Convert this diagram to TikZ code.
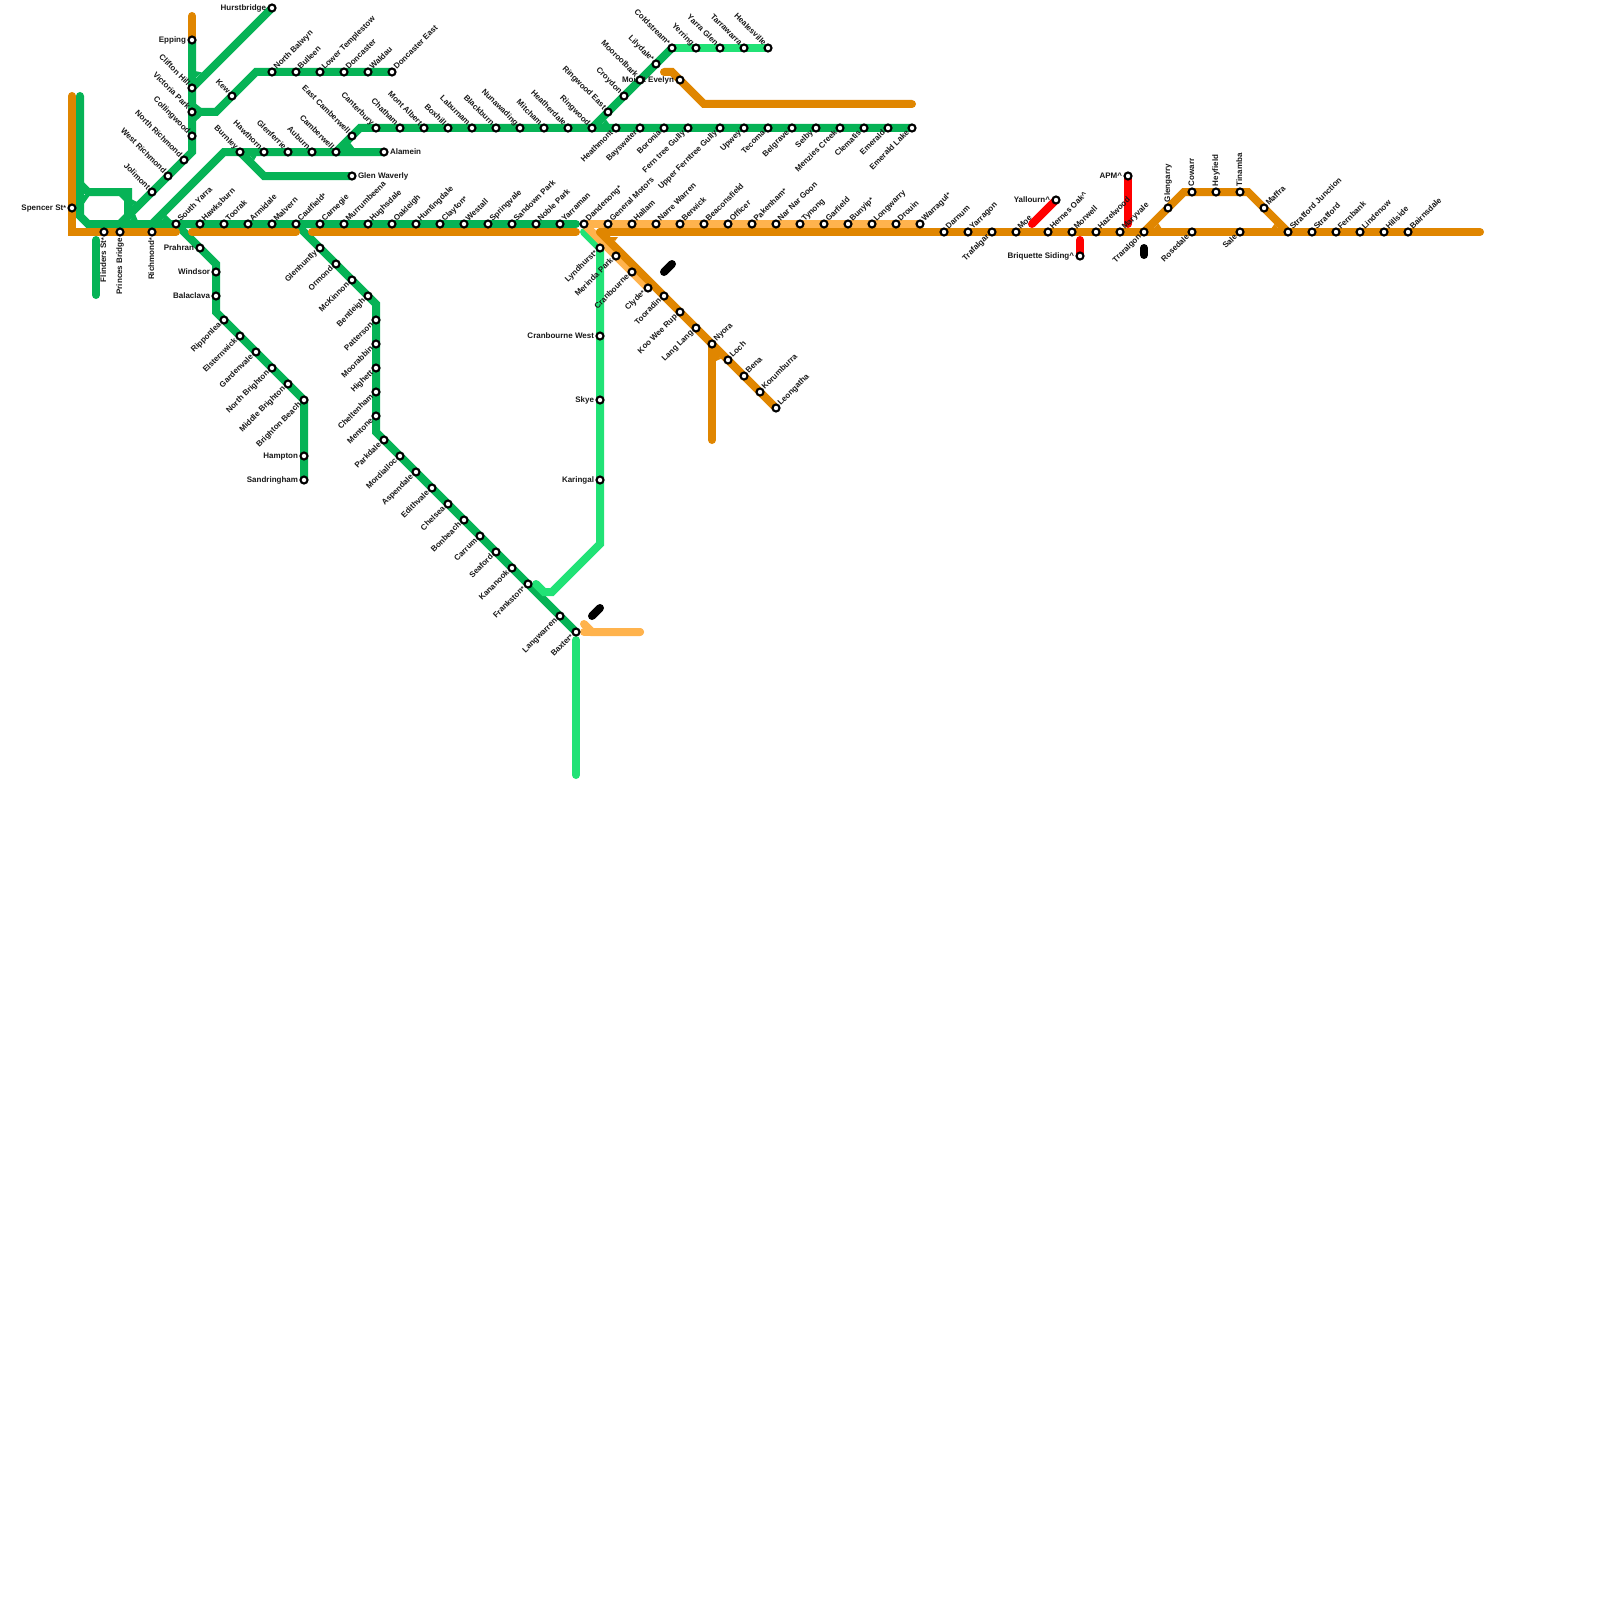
\documentclass[tikz,border=0pt]{standalone}
\usepackage{fontspec}
\setmainfont{Liberation Sans}
\pgfdeclarelayer{lines}
\pgfdeclarelayer{labels}
\pgfsetlayers{lines,labels,main}
\definecolor{gn}{HTML}{06B356}
\definecolor{lgn}{HTML}{21E276}
\definecolor{org}{HTML}{E08600}
\definecolor{lor}{HTML}{FFB34D}
\definecolor{rd}{HTML}{FF0000}
\tikzset{
 stn/.style={circle,draw=black,fill=white,line width=2.1pt,minimum size=7pt,inner sep=0pt,outer sep=0pt},
 lbl/.style={font=\fontsize{8}{9}\selectfont\bfseries,text=black!90,inner ysep=0pt,outer sep=0pt,text height=5.8pt,text depth=1.7pt},
 la/.style={lbl,rotate=45,anchor=west,inner xsep=5pt},
 lb/.style={lbl,rotate=45,anchor=east,inner xsep=5.5pt},
 lc/.style={lbl,rotate=-45,anchor=east,inner xsep=5pt},
 ll/.style={lbl,anchor=east,inner xsep=6pt},
 lr/.style={lbl,anchor=west,inner xsep=6pt},
 lu/.style={lbl,rotate=90,anchor=west,inner xsep=6pt},
 ld/.style={lbl,rotate=90,anchor=east,inner xsep=6pt},
 metro/.style={line width=8pt,line cap=round,line join=miter,miter limit=10},
 gline/.style={metro,draw=gn},
 lgline/.style={metro,draw=lgn},
 oline/.style={metro,draw=org},
 loline/.style={metro,draw=lor},
 rline/.style={metro,draw=rd},
 kline/.style={metro,draw=black},
}
\newcommand\st[5]{\node[stn] (#1) at (#2,#3) {};\begin{pgfonlayer}{labels}\node[#4] (#1-l) at (#1.center) {#5};\end{pgfonlayer}}
\newcommand\route[3]{\draw[#1] (#2.center) foreach \n in {#3} {-- (\n.center)};}
\newcommand\cp[3]{\coordinate (#1) at (#2,#3);}
\newcommand\crt{\textasciicircum}
\newcommand\strr{{\fontsize{7}{7}\selectfont*}}
\newcommand\fillet[2]{\fill[#1] #2 -- cycle;}
\begin{document}
\begin{tikzpicture}[x=1pt,y=-1pt]
\useasboundingbox (0,0) rectangle (1600,1600);
% city + cross-city
\st{spencer}{72}{208}{ll}{Spencer St\strr}
\st{flinders}{104}{232}{ld}{Flinders St\strr}
\st{princes}{120}{232}{ld}{Princes Bridge}
\st{richmond}{152}{232}{ld}{Richmond\strr}
\st{southyarra}{176}{224}{la}{South Yarra}
\st{hawksburn}{200}{224}{la}{Hawksburn}
\st{toorak}{224}{224}{la}{Toorak}
\st{armidale}{248}{224}{la}{Armidale}
\st{malvern}{272}{224}{la}{Malvern}
\st{caulfield}{296}{224}{la}{Caulfield\strr}
\st{carnegie}{320}{224}{la}{Carnegie}
\st{murrumbeena}{344}{224}{la}{Murrumbeena}
\st{hughsdale}{368}{224}{la}{Hughsdale}
\st{oakleigh}{392}{224}{la}{Oakleigh}
\st{huntingdale}{416}{224}{la}{Huntingdale}
\st{clayton}{440}{224}{la}{Clayton\strr}
\st{westall}{464}{224}{la}{Westall}
\st{springvale}{488}{224}{la}{Springvale}
\st{sandown}{512}{224}{la}{Sandown Park}
\st{noblepark}{536}{224}{la}{Noble Park}
\st{yarraman}{560}{224}{la}{Yarraman}
\st{dandenong}{584}{224}{la}{Dandenong\strr}
\st{genmotors}{608}{224}{la}{General Motors}
\st{hallam}{632}{224}{la}{Hallam}
\st{narrewarren}{656}{224}{la}{Narre Warren}
\st{berwick}{680}{224}{la}{Berwick}
\st{beaconsfield}{704}{224}{la}{Beaconsfield}
\st{officer}{728}{224}{la}{Officer}
\st{pakenham}{752}{224}{la}{Pakenham\strr}
\st{narnar}{776}{224}{la}{Nar Nar Goon}
\st{tynong}{800}{224}{la}{Tynong}
\st{garfield}{824}{224}{la}{Garfield}
\st{bunyip}{848}{224}{la}{Bunyip\strr}
\st{longwarry}{872}{224}{la}{Longwarry}
\st{drouin}{896}{224}{la}{Drouin}
\st{warragul}{920}{224}{la}{Warragul\strr}
\st{darnum}{944}{232}{la}{Darnum}
\st{yarragon}{968}{232}{la}{Yarragon}
\st{trafalgar}{992}{232}{lb}{Trafalgar}
\st{moe}{1016}{232}{la}{Moe}
\st{hernes}{1048}{232}{la}{Hernes Oak\crt}
\st{morwell}{1072}{232}{la}{Morwell}
\st{hazelwood}{1096}{232}{la}{Hazelwood}
\st{maryvale}{1120}{232}{la}{Maryvale}
\st{traralgon}{1144}{232}{lb}{Traralgon}
\st{rosedale}{1192}{232}{lb}{Rosedale}
\st{sale}{1240}{232}{lb}{Sale}
\st{stratjn}{1288}{232}{la}{Stratford Junction}
\st{stratford}{1312}{232}{la}{Stratford}
\st{fernbank}{1336}{232}{la}{Fernbank}
\st{lindenow}{1360}{232}{la}{Lindenow}
\st{hillside}{1384}{232}{la}{Hillside}
\st{bairnsdale}{1408}{232}{la}{Bairnsdale}
\st{glengarry}{1168}{208}{lu}{Glengarry}
\st{cowarr}{1192}{192}{lu}{Cowarr}
\st{heyfield}{1216}{192}{lu}{Heyfield}
\st{tinamba}{1240}{192}{lu}{Tinamba}
\st{maffra}{1264}{208}{la}{Maffra}
\st{yallourn}{1056}{200}{ll}{Yallourn\crt}
\st{apm}{1128}{176}{ll}{APM\crt}
\st{briquette}{1080}{256}{ll}{Briquette Siding\crt}
% Epping / Hurstbridge
\st{epping}{192}{40}{ll}{Epping}
\st{clifton}{192}{88}{lc}{Clifton Hill}
\st{victoria}{192}{112}{lc}{Victoria Park}
\st{collingwood}{192}{136}{lc}{Collingwood}
\st{northrich}{184}{160}{lc}{North Richmond}
\st{westrich}{168}{176}{lc}{West Richmond}
\st{jolimont}{152}{192}{lc}{Jolimont}
\st{hurstbridge}{272}{8}{ll}{Hurstbridge}
% Doncaster
\st{kew}{232}{96}{lc}{Kew}
\st{nbalwyn}{272}{72}{la}{North Balwyn}
\st{bulleen}{296}{72}{la}{Bulleen}
\st{lowertemp}{320}{72}{la}{Lower Templestow}
\st{doncaster}{344}{72}{la}{Doncaster}
\st{waldau}{368}{72}{la}{Waldau}
\st{doneast}{392}{72}{la}{Doncaster East}
% Burnley group
\st{burnley}{240}{152}{lc}{Burnley}
\st{hawthorn}{264}{152}{lc}{Hawthorn}
\st{glenferrie}{288}{152}{lc}{Glenferrie}
\st{auburn}{312}{152}{lc}{Auburn}
\st{camberwell}{336}{152}{lc}{Camberwell}
\st{alamein}{384}{152}{lr}{Alamein}
\st{glenwaverly}{352}{176}{lr}{Glen Waverly}
\st{eastcam}{352}{136}{lc}{East Camberwell}
\st{canterbury}{376}{128}{lc}{Canterbury}
\st{chatham}{400}{128}{lc}{Chatham}
\st{montalbert}{424}{128}{lc}{Mont Albert}
\st{boxhill}{448}{128}{lc}{Boxhill}
\st{laburnam}{472}{128}{lc}{Laburnam}
\st{blackburn}{496}{128}{lc}{Blackburn}
\st{nunawading}{520}{128}{lc}{Nunawading}
\st{mitcham}{544}{128}{lc}{Mitcham}
\st{heatherdale}{568}{128}{lc}{Heatherdale}
\st{ringwood}{592}{128}{lc}{Ringwood}
\st{heathmont}{616}{128}{lb}{Heathmont}
\st{bayswater}{640}{128}{lb}{Bayswater}
\st{boronia}{664}{128}{lb}{Boronia}
\st{ferntree}{688}{128}{lb}{Fern tree Gully}
\st{upperfg}{720}{128}{lb}{Upper Ferntree Gully}
\st{upwey}{744}{128}{lb}{Upwey}
\st{tecoma}{768}{128}{lb}{Tecoma}
\st{belgrave}{792}{128}{lb}{Belgrave}
\st{selby}{816}{128}{lb}{Selby}
\st{menzies}{840}{128}{lb}{Menzies Creek}
\st{clematis}{864}{128}{lb}{Clematis}
\st{emerald}{888}{128}{lb}{Emerald}
\st{emeraldlake}{912}{128}{lb}{Emerald Lake}
% Lilydale
\st{ringeast}{608}{112}{lc}{Ringwood East}
\st{croydon}{624}{96}{lc}{Croydon}
\st{mooroolbark}{640}{80}{lc}{Mooroolbark}
\st{lilydale}{656}{64}{lc}{Lilydale\strr}
\st{coldstream}{672}{48}{lc}{Coldstream\strr}
\st{yerring}{696}{48}{lc}{Yerring}
\st{yarraglen}{720}{48}{lc}{Yarra Glen}
\st{tarrawarra}{744}{48}{lc}{Tarrawarra}
\st{healesville}{768}{48}{lc}{Healesville}
\st{mtevelyn}{680}{80}{ll}{Mount Evelyn}
% Sandringham
\st{prahran}{200}{248}{ll}{Prahran}
\st{windsor}{216}{272}{ll}{Windsor}
\st{balaclava}{216}{296}{ll}{Balaclava}
\st{ripponlea}{224}{320}{lb}{Ripponlea}
\st{elsternwick}{240}{336}{lb}{Elsternwick}
\st{gardenvale}{256}{352}{lb}{Gardenvale}
\st{nbrighton}{272}{368}{lb}{North Brighton}
\st{mbrighton}{288}{384}{lb}{Middle Brighton}
\st{bbeach}{304}{400}{lb}{Brighton Beach}
\st{hampton}{304}{456}{ll}{Hampton}
\st{sandringham}{304}{480}{ll}{Sandringham}
% Frankston
\st{glenhuntly}{320}{248}{lb}{Glenhuntly}
\st{ormond}{336}{264}{lb}{Ormond}
\st{mckinnon}{352}{280}{lb}{McKinnon}
\st{bentleigh}{368}{296}{lb}{Bentleigh}
\st{patterson}{376}{320}{lb}{Patterson}
\st{moorabbin}{376}{344}{lb}{Moorabbin}
\st{highett}{376}{368}{lb}{Highett}
\st{cheltenham}{376}{392}{lb}{Cheltenham}
\st{mentone}{376}{416}{lb}{Mentone}
\st{parkdale}{384}{440}{lb}{Parkdale}
\st{mordialloc}{400}{456}{lb}{Mordialloc}
\st{aspendale}{416}{472}{lb}{Aspendale}
\st{edithvale}{432}{488}{lb}{Edithvale}
\st{chelsea}{448}{504}{lb}{Chelsea}
\st{bonbeach}{464}{520}{lb}{Bonbeach}
\st{carrum}{480}{536}{lb}{Carrum}
\st{seaford}{496}{552}{lb}{Seaford}
\st{kananook}{512}{568}{lb}{Kananook}
\st{frankston}{528}{584}{lb}{Frankston\strr}
\st{langwarren}{560}{616}{lb}{Langwarren}
\st{baxter}{576}{632}{lb}{Baxter\strr}
% Cranbourne / Gippsland south
\st{lyndhurst}{600}{248}{lb}{Lyndhurst\strr}
\st{cranwest}{600}{336}{ll}{Cranbourne West}
\st{skye}{600}{400}{ll}{Skye}
\st{karingal}{600}{480}{ll}{Karingal}
\st{merinda}{616}{256}{lb}{Merinda Park}
\st{cranbourne}{632}{272}{lb}{Cranbourne}
\st{clyde}{648}{288}{lb}{Clyde\strr}
\st{tooradin}{664}{296}{lb}{Tooradin}
\st{kooweerup}{680}{312}{lb}{Koo Wee Rup}
\st{langlang}{696}{328}{lb}{Lang Lang}
\st{nyora}{712}{344}{la}{Nyora}
\st{loch}{728}{360}{la}{Loch}
\st{bena}{744}{376}{la}{Bena}
\st{korumburra}{760}{392}{la}{Korumburra}
\st{leongatha}{776}{408}{la}{Leongatha}
% corners and free ends
\cp{oTopL}{72}{96}\cp{oCornL}{72}{232}\cp{oEndA}{176}{232}\cp{oStartB}{192}{232}\cp{oEndB}{296}{232}
\cp{oStartC}{312}{232}\cp{oEndC}{576}{232}\cp{oStartD}{600}{232}\cp{oEnd}{1480}{232}
\cp{oBrT}{1184}{192}\cp{oBrR}{1248}{192}\cp{oStub}{192}{16}
\cp{oNyBot}{712}{440}\cp{oMeA}{664}{72}\cp{oMeB}{672}{72}\cp{oMeC}{704}{104}\cp{oMeD}{912}{104}
\cp{gTop}{80}{96}\cp{gBend}{80}{216}\cp{gBendB}{88}{224}\cp{gEnd}{576}{224}
\cp{loopA}{80}{184}\cp{loopB}{88}{192}\cp{loopC}{128}{192}\cp{loopD}{128}{216}\cp{loopE}{120}{224}
\cp{jolS}{120}{224}\cp{jolT}{192}{152}\cp{burS}{152}{224}\cp{burT}{224}{152}
\cp{kewA}{216}{112}\cp{kewB}{256}{72}
\cp{camT}{360}{128}\cp{gwA}{264}{176}
\cp{sanA}{216}{264}\cp{sanB}{216}{312}
\cp{frA}{376}{304}\cp{frB}{376}{432}
\cp{flS}{96}{240}\cp{flE}{96}{295}
\cp{lgA}{584}{232}\cp{lgB}{600}{544}\cp{lgC}{552}{592}\cp{lgD}{544}{592}\cp{lgE}{536}{584}
\cp{lgS}{576}{640}\cp{lgT}{576}{775}
\cp{loA}{584}{624}\cp{loB}{592}{632}\cp{loC}{640}{632}\cp{loD}{584}{632}
\cp{kA}{592}{616}\cp{kB}{600}{608}\cp{kC}{664}{272}\cp{kD}{672}{264}\cp{kE}{1144}{248}\cp{kF}{1144}{255}
\cp{yalS}{1032}{224}\cp{apmS}{1128}{224}\cp{briS}{1080}{240}
\begin{pgfonlayer}{lines}
\fill[white] (0,0) rectangle (1600,1600);
% red
\route{rline}{yallourn}{yalS}
\route{rline}{apm}{apmS}
\route{rline}{briquette}{briS}
% dark green
\route{gline}{gTop}{gBend,gBendB,southyarra,hawksburn,toorak,armidale,malvern,caulfield,carnegie,murrumbeena,hughsdale,oakleigh,huntingdale,clayton,westall,springvale,sandown,noblepark,yarraman,gEnd}
\route{gline}{loopA}{loopB,loopC,loopD,loopE}
\route{gline}{jolS}{jolimont,westrich,northrich,jolT,collingwood,victoria,clifton,epping}
\route{gline}{clifton}{hurstbridge}
\route{gline}{victoria}{kewA,kew,kewB,nbalwyn,bulleen,lowertemp,doncaster,waldau,doneast}
\route{gline}{burS}{burT,burnley,hawthorn,glenferrie,auburn,camberwell,alamein}
\route{gline}{burnley}{gwA,glenwaverly}
\route{gline}{camberwell}{eastcam,camT,canterbury,chatham,montalbert,boxhill,laburnam,blackburn,nunawading,mitcham,heatherdale,ringwood,heathmont,bayswater,boronia,ferntree,upperfg,upwey,tecoma,belgrave,selby,menzies,clematis,emerald,emeraldlake}
\route{gline}{ringwood}{ringeast,croydon,mooroolbark,lilydale,coldstream}
\route{gline}{southyarra}{prahran,sanA,windsor,balaclava,sanB,ripponlea,elsternwick,gardenvale,nbrighton,mbrighton,bbeach,hampton,sandringham}
\route{gline}{caulfield}{glenhuntly,ormond,mckinnon,bentleigh,frA,patterson,moorabbin,highett,cheltenham,mentone,frB,parkdale,mordialloc,aspendale,edithvale,chelsea,bonbeach,carrum,seaford,kananook,frankston,langwarren,baxter}
\route{gline}{flS}{flE}
% junction fillets, green
\fillet{gn}{(195,78.5) -- (195,71) -- (202,72.5)}
\fillet{gn}{(195,108.5) -- (195,103) -- (202,108.5)}
\fillet{gn}{(195,115.5) -- (202,115.5) -- (195,122)}
\fillet{gn}{(83,195) -- (83,205) -- (90,195)}
\fillet{gn}{(118,195) -- (125,195) -- (125,202)}
\fillet{gn}{(125,214) -- (125,221) -- (118,221)}
\fillet{gn}{(83,215) -- (83,221) -- (90,221)}
\fillet{gn}{(131,199) -- (131,207) -- (137,202)}
\fillet{gn}{(129,221) -- (135,214) -- (138,221)}
\fillet{gn}{(161,221) -- (166,215) -- (172,221)}
\fillet{gn}{(249,155) -- (257,155) -- (254,160.5)}
\fillet{gn}{(345,149) -- (349.5,142) -- (355,149)}
\fillet{gn}{(601,125) -- (606,119.5) -- (610,125)}
% light green
\route{lgline}{coldstream}{yerring,yarraglen,tarrawarra,healesville}
\route{lgline}{lgA}{lyndhurst,cranwest,skye,karingal,lgB,lgC,lgD,lgE}
\route{lgline}{lgS}{lgT}
% light orange
\route{loline}{dandenong}{genmotors,hallam,narrewarren,berwick,beaconsfield,officer,pakenham,narnar,tynong,garfield,bunyip,longwarry,drouin,warragul}
\route{loline}{dandenong}{merinda,cranbourne,clyde}
\route{loline}{loA}{loB,loC}
\route{loline}{loD}{loC}
% orange
\route{oline}{oTopL}{spencer,oCornL,flinders,princes,richmond,oEndA}
\route{oline}{oStartB}{oEndB}
\route{oline}{oStartC}{oEndC}
\route{oline}{oStartD}{darnum,yarragon,trafalgar,moe,hernes,morwell,hazelwood,maryvale,traralgon,rosedale,sale,stratjn,stratford,fernbank,lindenow,hillside,bairnsdale,oEnd}
\route{oline}{oStartD}{tooradin,kooweerup,langlang,nyora,loch,bena,korumburra,leongatha}
\route{oline}{nyora}{oNyBot}
\route{oline}{traralgon}{glengarry,oBrT,cowarr,heyfield,tinamba,oBrR,maffra,stratjn}
\route{oline}{oStub}{epping}
\route{oline}{oMeA}{oMeB,mtevelyn,oMeC,oMeD}
% junction fillets, orange
\fillet{org}{(609,237) -- (618,237) -- (615,241)}
\fillet{org}{(716,353) -- (716,361) -- (721,358.7)}
\fillet{org}{(1153,229) -- (1158.3,223.3) -- (1162,229)}
\fillet{org}{(1279,229) -- (1274.5,224) -- (1271,229)}
% black
\route{kline}{kA}{kB}
\route{kline}{kC}{kD}
\route{kline}{kE}{kF}
\end{pgfonlayer}
\end{tikzpicture}
\end{document}
